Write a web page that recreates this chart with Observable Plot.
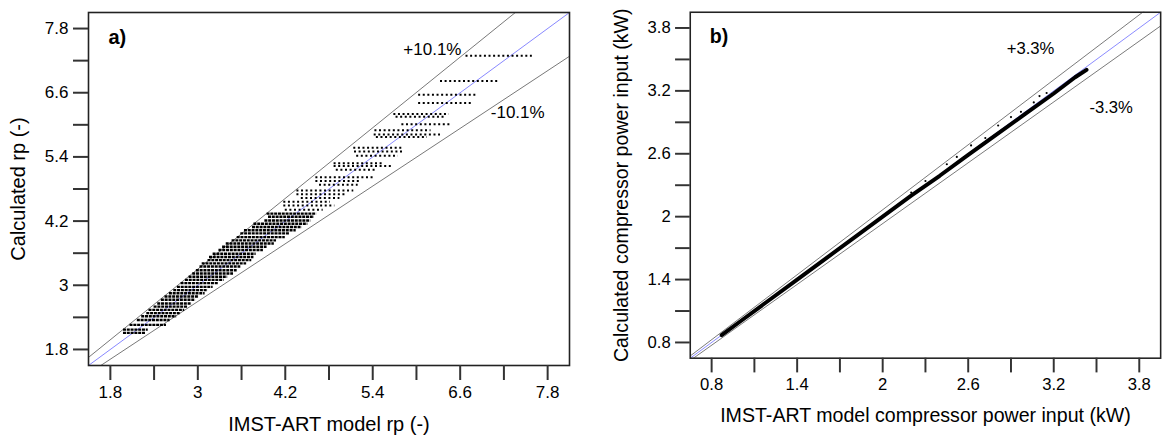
<!DOCTYPE html>
<html>
<head>
<meta charset="utf-8">
<script src="https://cdn.jsdelivr.net/npm/d3@7"></script>
<script src="https://cdn.jsdelivr.net/npm/@observablehq/plot@0.6"></script>
<style>
  html, body { margin: 0; padding: 0; background: #fff; }
  #wrap { position: relative; width: 1168px; height: 439px; overflow: hidden; background: #fff; }
  #pa { position: absolute; left: 0; top: 0; }
  #pb { position: absolute; left: 580px; top: 0; }
  svg { font-family: "Liberation Sans", Arial, sans-serif; }
</style>
</head>
<body>
<div id="wrap"><div id="pa"></div><div id="pb"></div></div>
<script>
// ---------- Panel a: pressure ratio rp ----------
const aTicks = [1.8, 2.4, 3, 3.6, 4.2, 4.8, 5.4, 6, 6.6, 7.2, 7.8];
const aTickLabels = [1.8, 3, 4.2, 5.4, 6.6, 7.8];
const aDomain = [1.5, 8.1];
const aBand = 0.101;
const aXLabel = "IMST-ART model rp (-)";
const aYLabel = "Calculated rp (-)";
const aNotes = [{x: 5.82, y: 7.41, t: "+10.1%"}, {x: 7.02, y: 6.23, t: "-10.1%"}];

// sparse (upper) rows of points: calculated rp, model rp from, model rp to
const aSparseY  = [7.29, 6.82, 6.56, 6.41, 6.20, 6.15, 6.01, 5.90, 5.82, 5.77, 5.57, 5.50, 5.42, 5.28, 5.23, 5.16, 5.02, 4.95, 4.88, 4.77, 4.70, 4.63, 4.56, 4.49, 4.41];
const aSparseX1 = [6.68, 6.33, 6.03, 6.03, 5.69, 5.72, 5.80, 5.43, 5.42, 5.45, 5.14, 5.15, 5.18, 4.87, 4.87, 4.90, 4.62, 4.62, 4.67, 4.36, 4.36, 4.42, 4.18, 4.18, 4.20];
const aSparseX2 = [7.59, 7.15, 6.85, 6.78, 6.45, 6.40, 6.47, 6.20, 6.33, 6.15, 5.82, 5.82, 5.75, 5.53, 5.68, 5.45, 5.42, 5.25, 5.20, 5.14, 5.02, 4.95, 4.82, 4.88, 4.72];
// dense (lower) rows of points
const aDenseY  = [4.34, 4.28, 4.21, 4.15, 4.09, 4.03, 3.97, 3.90, 3.84, 3.78, 3.72, 3.66, 3.59, 3.53, 3.47, 3.41, 3.35, 3.28, 3.22, 3.16, 3.10, 3.04, 2.97, 2.91, 2.85, 2.79, 2.73, 2.66, 2.60, 2.54, 2.48, 2.42, 2.35, 2.26, 2.17, 2.11];
const aDenseX1 = [3.95, 3.97, 3.92, 3.77, 3.75, 3.64, 3.59, 3.54, 3.47, 3.39, 3.34, 3.29, 3.21, 3.16, 3.14, 3.06, 3.03, 2.98, 2.93, 2.88, 2.83, 2.77, 2.72, 2.67, 2.61, 2.55, 2.50, 2.45, 2.40, 2.33, 2.30, 2.23, 2.17, 2.07, 1.98, 1.98];
const aDenseX2 = [4.63, 4.60, 4.55, 4.51, 4.43, 4.35, 4.26, 4.20, 4.08, 4.05, 3.95, 3.90, 3.80, 3.77, 3.74, 3.67, 3.59, 3.54, 3.49, 3.41, 3.36, 3.29, 3.21, 3.14, 3.10, 3.02, 2.97, 2.92, 2.87, 2.82, 2.77, 2.71, 2.62, 2.57, 2.32, 2.29];

// ---------- Panel b: compressor power input (kW) ----------
const bTicks = [0.8, 1.1, 1.4, 1.7, 2, 2.3, 2.6, 2.9, 3.2, 3.5, 3.8];
const bTickLabels = [0.8, 1.4, 2, 2.6, 3.2, 3.8];
const bDomain = [0.65, 3.95];
const bBand = 0.033;
const bXLabel = "IMST-ART model compressor power input (kW)";
const bYLabel = "Calculated compressor power input (kW)";
const bNotes = [{x: 2.87, y: 3.60, t: "+3.3%"}, {x: 3.45, y: 3.04, t: "-3.3%"}];
// main band of points
const bBandX = [0.87, 1.0, 1.2, 1.4, 1.6, 1.8, 2.0, 2.2, 2.4, 2.6, 2.8, 3.0, 3.2, 3.35, 3.43];
const bBandY = [0.87, 1.0, 1.2, 1.4, 1.6, 1.8, 2.0, 2.2, 2.39, 2.59, 2.785, 2.98, 3.175, 3.33, 3.40];
// scattered points above the band
const bScatX = [2.20, 2.30, 2.45, 2.52, 2.62, 2.72, 2.81, 2.90, 2.97, 3.06, 3.10, 3.15];
const bScatY = [2.23, 2.34, 2.50, 2.57, 2.68, 2.75, 2.87, 2.95, 3.00, 3.09, 3.15, 3.18];

const font = {fontFamily: "Liberation Sans, Arial, sans-serif", fontSize: "17px", color: "#000", background: "#fff", overflow: "visible"};

function panel({width, marginLeft, marginRight, domain, ticks, tickLabels, band, xLabel, yLabel, letter, notes, marks}) {
  const fmt = d => tickLabels.includes(d) ? String(d) : "";
  const diag = domain.map(v => ({x: v, y: v}));
  const env = [];
  for (const s of [1 + band, 1 - band]) for (const v of domain) env.push({x: v, y: v * s, k: s});
  return Plot.plot({
    width, height: 439,
    marginLeft, marginRight, marginTop: 12, marginBottom: 74,
    style: font,
    x: {domain, label: null},
    y: {domain, label: null},
    marks: [
      Plot.line(env, {x: "x", y: "y", z: "k", stroke: "#555", strokeWidth: 0.8, clip: true}),
      Plot.line(diag, {x: "x", y: "y", stroke: "#6a6aff", strokeWidth: 0.8, clip: true}),
      ...marks,
      Plot.frame({stroke: "#222", strokeWidth: 1.6}),
      Plot.axisX({ticks, tickFormat: fmt, tickSize: 15, tickPadding: 5, fontSize: 17, stroke: "#333", strokeWidth: 2, label: null}),
      Plot.axisY({ticks, tickFormat: fmt, tickSize: 15, tickPadding: 5, fontSize: 17, stroke: "#333", strokeWidth: 2, label: null}),
      Plot.text([xLabel], {frameAnchor: "bottom", dy: 59, fontSize: 20, textAnchor: "middle", lineAnchor: "middle"}),
      Plot.text([yLabel], {frameAnchor: "left", dx: -69.5, rotate: -90, fontSize: 20, textAnchor: "middle", lineAnchor: "middle"}),
      Plot.text([letter], {frameAnchor: "top-left", dx: 20, dy: 25, fontSize: 20, fontWeight: "bold", textAnchor: "start", lineAnchor: "middle"}),
      Plot.text(notes, {x: "x", y: "y", text: "t", textAnchor: "start", lineAnchor: "middle", fontSize: 17})
    ]
  });
}

const sparse = aSparseY.map((y, i) => ({y, x1: aSparseX1[i], x2: aSparseX2[i]}));
const dense = aDenseY.map((y, i) => ({y, x1: aDenseX1[i], x2: aDenseX2[i]}));
const bandPts = bBandX.map((x, i) => ({x, y: bBandY[i]}));
const scat = bScatX.map((x, i) => ({x, y: bScatY[i]}));

document.getElementById("pa").appendChild(panel({
  width: 580, marginLeft: 88, marginRight: 11, domain: aDomain, ticks: aTicks, tickLabels: aTickLabels,
  band: aBand, xLabel: aXLabel, yLabel: aYLabel, letter: "a)", notes: aNotes,
  marks: [
    Plot.ruleY(sparse, {y: "y", x1: "x1", x2: "x2", stroke: "#000", strokeWidth: 2, strokeDasharray: "2 2.6"}),
    Plot.ruleY(dense, {y: "y", x1: "x1", x2: "x2", stroke: "#000", strokeWidth: 2.4, strokeDasharray: "3 0.8"})
  ]
}));

document.getElementById("pb").appendChild(panel({
  width: 600, marginLeft: 112, marginRight: 8, domain: bDomain, ticks: bTicks, tickLabels: bTickLabels,
  band: bBand, xLabel: bXLabel, yLabel: bYLabel, letter: "b)", notes: bNotes,
  marks: [
    Plot.line(bandPts, {x: "x", y: "y", stroke: "#000", strokeWidth: 4, curve: "linear"}),
    Plot.dot(scat, {x: "x", y: "y", r: 1.1, fill: "#000", stroke: "none"})
  ]
}));
</script>
</body>
</html>
